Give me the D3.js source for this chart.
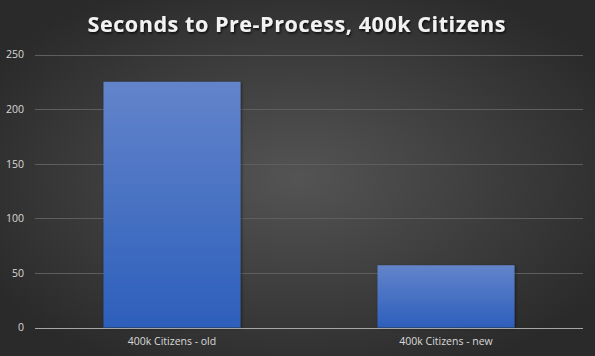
<!DOCTYPE html>
<html><head><meta charset="utf-8">
<script src="https://cdn.jsdelivr.net/npm/d3@7"></script>
<style>html,body{margin:0;padding:0;background:#2b2b2b;}svg{display:block;}</style>
</head><body>
<svg id="c" width="595" height="356"></svg>
<script>
const categories = ["400k Citizens - old", "400k Citizens - new"];
const values = [225, 57];
const yTicks = [0, 50, 100, 150, 200, 250];
const title = "Seconds to Pre-Process, 400k Citizens";

const W = 595, H = 356;
const m = {left: 35, right: 12, top: 54.5, bottom: 28.5};
const svg = d3.select("#c");
const defs = svg.append("defs");
const bg = defs.append("radialGradient").attr("id","bg").attr("cx","50%").attr("cy","50%").attr("r","60%");
bg.append("stop").attr("offset","0%").attr("stop-color","#545454");
bg.append("stop").attr("offset","100%").attr("stop-color","#2a2a2a");
const bar = defs.append("linearGradient").attr("id","bar").attr("x1",0).attr("y1",0).attr("x2",0).attr("y2",1);
bar.append("stop").attr("offset","0%").attr("stop-color","#6384cb");
bar.append("stop").attr("offset","100%").attr("stop-color","#2d5fbb");
const sh = defs.append("filter").attr("id","sh").attr("x","-20%").attr("y","-20%").attr("width","140%").attr("height","140%");
sh.append("feDropShadow").attr("dx",1).attr("dy",1).attr("stdDeviation",1.5).attr("flood-color","#000").attr("flood-opacity",0.5);
const tsh = defs.append("filter").attr("id","tsh").attr("x","-10%").attr("y","-30%").attr("width","120%").attr("height","160%");
tsh.append("feDropShadow").attr("dx",1).attr("dy",1.5).attr("stdDeviation",1.2).attr("flood-color","#000").attr("flood-opacity",0.8);

svg.append("rect").attr("width",W).attr("height",H).attr("fill","url(#bg)");

const x = d3.scaleBand().domain(categories).range([m.left, W - m.right]).paddingInner(0.5).paddingOuter(0.25);
const y = d3.scaleLinear().domain([0, 250]).range([H - m.bottom, m.top]);

// gridlines
svg.append("g").selectAll("line").data(yTicks.filter(d=>d>0)).join("line")
  .attr("x1", m.left).attr("x2", W - m.right)
  .attr("y1", d=>Math.round(y(d))+0.5).attr("y2", d=>Math.round(y(d))+0.5)
  .attr("stroke","#5e5e5e").attr("stroke-width",1);

// y labels
const yAxis = d3.axisLeft(y).tickValues(yTicks).tickSize(0).tickPadding(0);
const gy = svg.append("g").attr("transform",`translate(${m.left-11},0)`).call(yAxis);
gy.select(".domain").remove();
gy.selectAll("text").attr("fill","#d9d9d9").attr("font-family","'Open Sans', sans-serif").attr("font-size","10.5px");

// bars
svg.append("g").selectAll("rect").data(values).join("rect")
  .attr("x",(d,i)=>x(categories[i])).attr("width",x.bandwidth())
  .attr("y",d=>y(d)).attr("height",d=>y(0)-y(d))
  .attr("fill","url(#bar)").attr("filter","url(#sh)");

// x axis
const xAxis = d3.axisBottom(x).tickSize(0).tickPadding(9);
const gx = svg.append("g").attr("transform",`translate(0,${Math.round(y(0))+0.5})`).call(xAxis);
gx.select(".domain").attr("stroke","#a6a6a6").attr("d",`M${m.left},0H${W-m.right}`);
gx.selectAll("text").attr("fill","#d9d9d9").attr("font-family","'Open Sans', sans-serif").attr("font-size","10.5px");

// title
const t = svg.append("text").attr("x", 296.5).attr("y", 32).attr("text-anchor","middle")
  .attr("fill","#f2f2f2").attr("font-family","'Open Sans', sans-serif").attr("font-weight","bold")
  .attr("font-size","21.5px").attr("filter","url(#tsh)").text(title);
const tw = t.node().getComputedTextLength();
const ls = Math.max(0, (418 - tw) / (title.length - 1));
t.attr("letter-spacing", ls + "px").attr("x", 296.5 + ls/2);
</script>
</body></html>
